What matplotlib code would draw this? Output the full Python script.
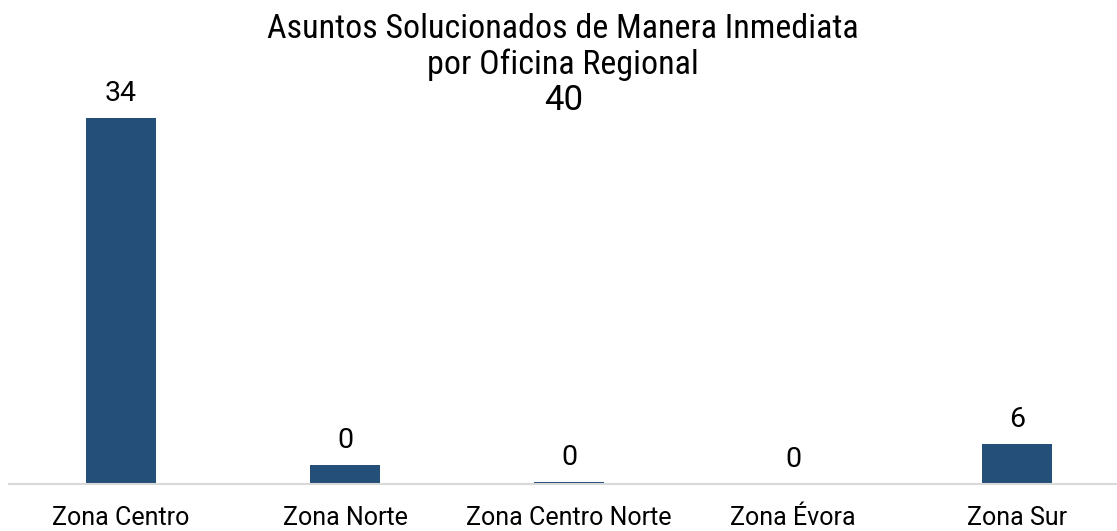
import matplotlib
matplotlib.use("Agg")
import matplotlib.pyplot as plt

categories = ["Zona Centro", "Zona Norte", "Zona Centro Norte", "Zona Évora", "Zona Sur"]
bar_values = [34, 1.75, 0.2, 0, 3.7]
value_labels = ["34", "0", "0", "0", "6"]
title_lines = ["Asuntos Solucionados de Manera Inmediata", "por Oficina Regional"]
extra_label = "40"

FONT = "Roboto"
TFONT = "Roboto Condensed"
W, H = 1117, 531
fig = plt.figure(figsize=(W / 100, H / 100), dpi=100)
ax = fig.add_axes([9 / W, 1 - 484 / H, 1120 / W, (484 - 118) / H * 40 / 34])

x = range(len(categories))
ax.bar(x, bar_values, width=0.315, color="#234F78")
ax.set_xlim(-0.5, 4.5)
ax.set_ylim(0, 40)
for i, (v, lab) in enumerate(zip(bar_values, value_labels)):
    ax.annotate(lab, (i, v), xytext=(0, 8), textcoords="offset points",
                ha="center", va="bottom", fontsize=20.5, family=FONT, color="#000000")

ax.set_xticks(list(x))
ax.set_xticklabels(categories, fontsize=18, family=FONT)
ax.tick_params(axis="x", length=0, pad=16)
ax.set_yticks([])
for s in ["top", "left", "right"]:
    ax.spines[s].set_visible(False)
ax.spines["bottom"].set_color("#D9D9D9")
ax.spines["bottom"].set_linewidth(1.5)
ax.patch.set_alpha(0)

fig.text(563 / W, 1 - 29 / H, title_lines[0], ha="center", va="center",
         fontsize=24.5, family=TFONT)
fig.text(563 / W, 1 - 65 / H, title_lines[1], ha="center", va="center",
         fontsize=24.5, family=TFONT)
fig.text(564 / W, 1 - 101 / H, extra_label, ha="center", va="center",
         fontsize=25, family=FONT)

fig.savefig("out.png", dpi=100)
